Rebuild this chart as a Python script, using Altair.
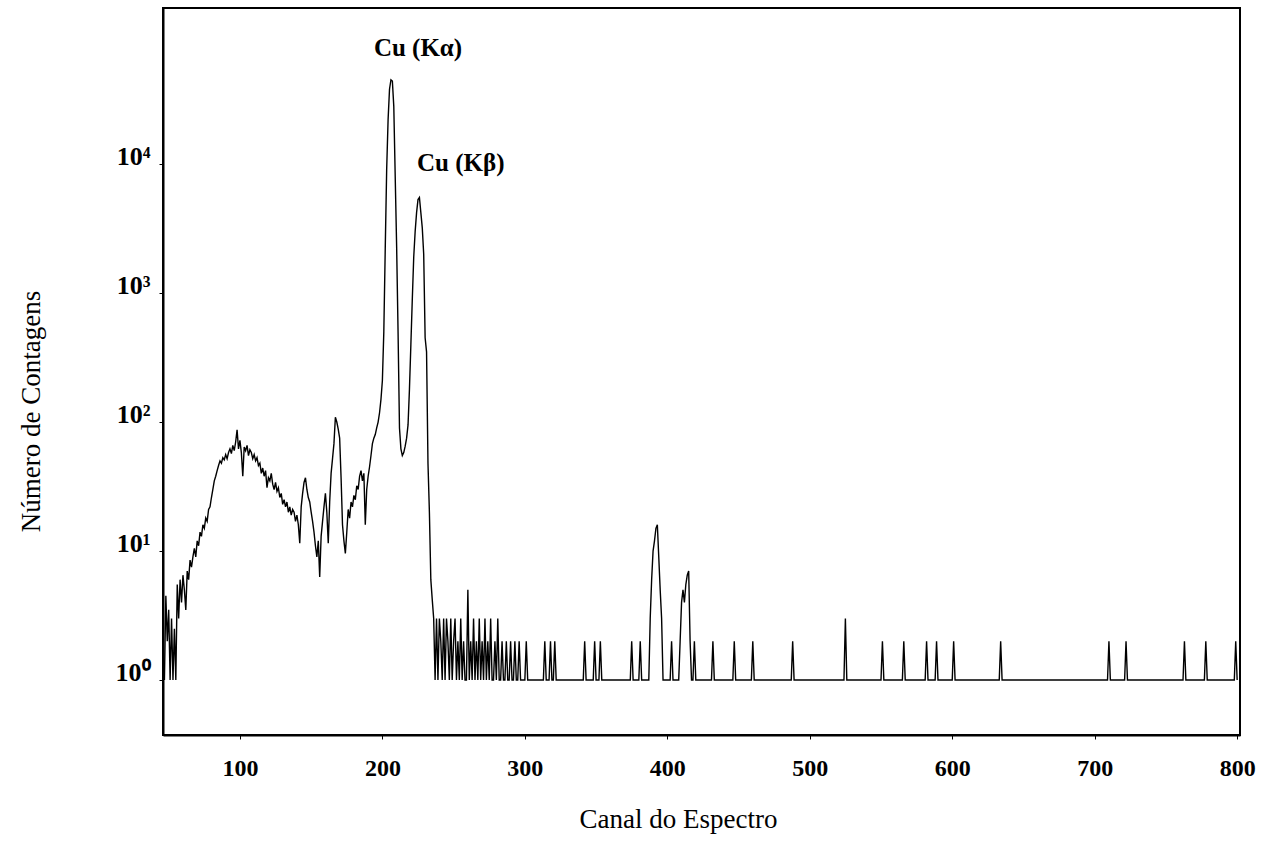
import altair as alt
import pandas as pd

# ---- data ----
first_channel = 47
# counts for channels 47 .. 236 (continuum + Cu K lines)
active_counts = [
    1, 4.5, 2, 3.5, 1, 3, 1, 2.5, 1, 5.5, 3, 6, 4, 6.5,          # 47-60
    5, 3.5, 7, 6, 8.5, 7.5, 9, 10.5, 9, 12,                      # 61-70
    11, 14, 13, 16, 15, 18, 17, 21, 22, 26,                      # 71-80
    30, 35, 38, 42, 46, 50, 48, 53, 51, 56,                      # 81-90
    52, 58, 62, 57, 66, 60, 70, 87, 62, 72,                      # 91-100
    58, 38, 64, 60, 66, 55, 61, 58, 52, 56,                      # 101-110
    50, 53, 46, 48, 40, 44, 38, 42, 31, 37,                      # 111-120
    35, 40, 33, 30, 34, 29, 31, 26, 28, 23,                      # 121-130
    25, 22, 24, 20, 22, 19, 21, 20, 17, 19,                      # 131-140
    16, 11.5, 22, 28, 34, 37, 30, 26, 24, 20,                    # 141-150
    17, 14, 11, 9, 12, 6.3, 13, 17, 22, 28,                      # 151-160
    20, 11.5, 24, 40, 52, 68, 109, 100, 88, 75,                  # 161-170
    37, 16, 12, 9.6, 14, 21, 18, 24, 22, 27,                     # 171-180
    25, 32, 30, 38, 42, 35, 40, 16, 30, 38,                      # 181-190
    45, 55, 68, 75, 80, 90, 100, 118, 150, 210,                  # 191-200
    500, 2200, 9000, 22000, 38000, 45000, 44000, 28000, 8000, 2300,  # 201-210
    500, 90, 62, 55, 58, 65, 75, 95, 180, 400,                   # 211-220
    900, 1900, 3000, 4200, 5300, 5500, 4200, 3200, 2000, 450,    # 221-230
    350, 48, 20, 6, 4.2, 3,                                      # 231-236
]
last_channel = 800
baseline_count = 1
# isolated counts above the flat baseline, channels 237 .. 800
tail_channels = [
    238, 240, 241, 243, 245, 246, 248, 250, 251, 253, 255, 257, 260, 262,
    264, 266, 268, 270, 272, 274, 276, 279, 281, 284, 287, 290, 293, 296,
    301, 314, 318, 321, 342, 349, 353, 375, 381,
    388, 389, 390, 391, 392, 393, 394, 395, 396,
    403, 409, 410, 411, 412, 413, 414, 415, 416, 419,
    432, 447, 460, 488, 525, 551, 566, 582, 589, 601, 634,
    710, 722, 763, 778, 799,
]
tail_counts = [
    3, 3, 2, 3, 3, 2, 3, 2, 3, 2, 3, 2, 5, 2,
    3, 2, 3, 2, 3, 2, 3, 2, 3, 2, 2, 2, 2, 2,
    2, 2, 2, 2, 2, 2, 2, 2, 2,
    3, 6, 10, 12, 15, 16, 9, 5, 3,
    2, 2, 4, 5, 4, 5.5, 6.5, 7, 2, 2,
    2, 2, 2, 2, 3, 2, 2, 2, 2, 2, 2,
    2, 2, 2, 2, 2,
]

x_ticks = [100, 200, 300, 400, 500, 600, 700, 800]
y_ticks = [1, 10, 100, 1000, 10000]
y_tick_labels = ["10⁰", "10¹", "10²", "10³", "10⁴"]

peak_labels = ["Cu (Kα)", "Cu (Kβ)"]
peak_label_channels = [225, 255]
peak_label_counts = [80000, 10200]

# ---- build table ----
rows = []
for i, c in enumerate(active_counts):
    rows.append({"canal": first_channel + i, "contagens": c})
spikes = dict(zip(tail_channels, tail_counts))
for ch in range(first_channel + len(active_counts), last_channel + 1):
    rows.append({"canal": ch, "contagens": spikes.get(ch, baseline_count)})
df = pd.DataFrame(rows)

ann = pd.DataFrame({"label": peak_labels, "canal": peak_label_channels,
                    "contagens": peak_label_counts})

label_expr = " : ".join(
    f"datum.value == {v} ? '{t}'" for v, t in zip(y_ticks, y_tick_labels)
) + " : ''"

FONT = "Liberation Serif"

x_scale = alt.Scale(domain=[46, 802], nice=False, zero=False)
y_scale = alt.Scale(type="log", domain=[0.375, 162000], nice=False)

line = alt.Chart(df).mark_line(color="black", strokeWidth=1.4).encode(
    x=alt.X("canal:Q", scale=x_scale,
            axis=alt.Axis(values=x_ticks, title="Canal do Espectro",
                          grid=False, tickSize=4, labelPadding=17,
                          labelFont=FONT, labelFontSize=24, labelFontWeight="bold",
                          labelColor="black", tickColor="black",
                          domainColor="black", domainWidth=2,
                          titleFont=FONT, titleFontSize=27, titleFontWeight="normal",
                          titleColor="black", titleX=515, titleY=84,
                          titleAlign="center", titleBaseline="middle")),
    y=alt.Y("contagens:Q", scale=y_scale,
            axis=alt.Axis(values=y_ticks, labelExpr=label_expr,
                          title="Número de Contagens", grid=False,
                          tickSize=4, labelPadding=9, labelOffset=-8,
                          labelFont=FONT, labelFontSize=26, labelFontWeight="bold",
                          labelColor="black", tickColor="black",
                          domainColor="black", domainWidth=2,
                          titleFont=FONT, titleFontSize=27, titleFontWeight="normal",
                          titleColor="black", titleX=-132, titleY=403,
                          titleAlign="center", titleBaseline="middle")),
)

text = alt.Chart(ann).mark_text(font=FONT, fontSize=25, fontWeight="bold",
                                color="black").encode(
    x=alt.X("canal:Q", scale=x_scale),
    y=alt.Y("contagens:Q", scale=y_scale),
    text="label:N",
)

chart = (line + text).properties(
    width=1077, height=727,
    autosize=alt.AutoSizeParams(type="none"),
    padding={"left": 163, "top": 8, "right": 35, "bottom": 107},
    background="white",
).configure_view(stroke="black", strokeWidth=2)

chart.save("out.html", embed_options={"renderer": "svg", "actions": False})
